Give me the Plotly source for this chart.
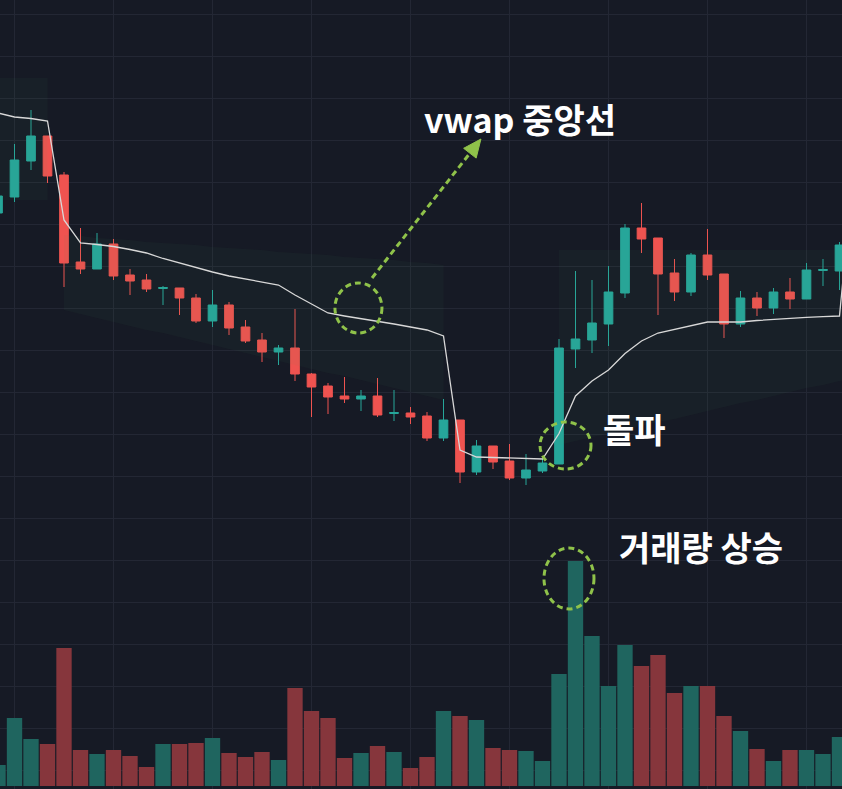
import plotly.graph_objects as go

# ---- data (candle index, OHLC, volume, vwap) ----
idx = list(range(-1, 51))
opens = [587, 603, 639, 664, 625, 538, 531, 556, 525, 520, 511.5, 512, 502, 479, 495, 473, 460, 448, 452, 426,
         414, 404, 401, 404, 386.5, 387, 384, 362, 380, 328, 354, 339, 322, 329, 336, 451, 460, 476, 507, 572,
         562, 527, 508, 545, 526, 476, 502, 492, 508, 501, 529.5, 529]
highs = [610, 656, 690, 664, 628, 572, 567, 561, 531, 526, 514, 512, 506, 510, 498, 480, 467, 455, 491, 427,
         417, 423, 410, 422, 410, 393, 388, 401, 380, 360, 354, 356, 346, 343, 461, 529, 520, 534, 576, 597,
         562, 541, 547, 571, 526, 509, 508, 512, 522, 537, 541, 558]
lows = [582, 598, 630, 617, 513, 526, 531, 520, 505, 508, 495, 485, 477, 473, 465, 457, 438, 435, 419, 383,
        386, 397, 389, 383, 379, 376, 359, 359, 317, 325, 331, 320, 315, 327, 336, 432, 447, 454, 502, 547,
        485, 499, 504, 520, 462, 473, 484, 486, 491, 501, 514, 510]
closes = [604, 640, 664, 624, 537, 531, 556, 524, 519, 511, 512.5, 502, 479, 495, 472, 459, 448, 452, 426, 413,
          403, 401, 404, 385, 387.5, 383, 362, 380, 328, 354, 338, 322, 330, 337, 452, 461, 477, 508, 572, 561,
          526, 508, 545, 525, 476, 502, 492, 508, 501, 530, 530.5, 555]
volume = [21, 68, 47, 42, 138, 36, 32, 36, 30, 19, 42, 42, 43, 48, 33, 29, 34, 26, 98, 75,
          68, 28, 33, 40, 34, 18, 29, 75, 70, 66, 38, 36, 35, 25, 112, 225, 150, 100, 141, 120,
          131, 93, 100, 100, 70, 55, 37, 25, 36, 36, 32, 49]

vwap_idx = list(range(-1, 52))
vwap = [687, 683, 681.5, 679, 580, 557, 555.5, 553.5, 550.5, 547, 541.5, 537, 532, 528, 524, 521, 518, 515, 505, 496,
        487, 484, 481.5, 479, 476, 473, 470, 464, 350, 343, 342.5, 342, 341.5, 341, 366.5, 404, 419, 430, 446.5, 459,
        467, 470.5, 474.5, 478, 478, 478, 479.5, 480.7, 482, 482.7, 483.4, 484, 656]

# soft band around the vwap (per session segment)
band_a_idx = [-1, 0, 1, 2]
band_a_up = [722, 722, 722, 722]
band_a_lo = [600, 600, 600, 600]
band_b_idx = list(range(3, 27))
band_b_up = [565, 564, 562, 561, 560, 558, 557, 556, 555, 553, 552, 551, 550, 548, 547, 546, 545, 543, 542, 541,
             540, 538, 537, 535]
band_b_lo = [490, 486, 482, 478, 474, 470, 467, 463, 459, 455, 451, 447, 443, 439, 435, 431, 427, 424, 420, 416,
             412, 408, 404, 400]
band_c_idx = list(range(33, 52))
band_c_up = [550] * 19
band_c_lo = [355, 359, 363, 366, 370, 374, 378, 381, 385, 389, 393, 397, 400, 404, 408, 412, 415, 419, 423]

labels = ["vwap 중앙선", "돌파", "거래량 상승"]

UP = "#26a69a"
DN = "#ef5350"
VUP = "#1f655f"
VDN = "#86363c"
BG = "#161a25"
ANN = "#8fc24a"

fig = go.Figure()

for bx, bu, bl in [(band_a_idx, band_a_up, band_a_lo), (band_b_idx, band_b_up, band_b_lo),
                   (band_c_idx, band_c_up, band_c_lo)]:
    fig.add_trace(go.Scatter(x=bx + bx[::-1], y=bu + bl[::-1], fill="toself", mode="none",
                             fillcolor="rgba(80,160,100,0.05)", hoverinfo="skip", yaxis="y"))

fig.add_trace(go.Bar(x=idx, y=volume, yaxis="y2", width=0.93,
                     marker=dict(color=[VUP if c > o else VDN for o, c in zip(opens, closes)], line=dict(width=0))))

fig.add_trace(go.Scatter(x=vwap_idx, y=vwap, mode="lines", line=dict(color="#d8d8d8", width=1.3), yaxis="y"))

fig.add_trace(go.Candlestick(x=idx, open=opens, high=highs, low=lows, close=closes,
                             increasing=dict(line=dict(color=UP, width=1), fillcolor=UP),
                             decreasing=dict(line=dict(color=DN, width=1), fillcolor=DN),
                             whiskerwidth=0, yaxis="y"))

dash = "6px,4px"
shapes = [
    dict(type="circle", xref="x", yref="y", x0=19.42, x1=22.27, y0=467, y1=517,
         line=dict(color=ANN, width=3, dash=dash)),
    dict(type="circle", xref="x", yref="y", x0=31.85, x1=34.94, y0=331, y1=378,
         line=dict(color=ANN, width=3, dash=dash)),
    dict(type="circle", xref="x", yref="y2", x0=32.09, x1=35.12, y0=177, y1=238,
         line=dict(color=ANN, width=3, dash=dash)),
    dict(type="line", xref="x", yref="y", x0=21.67, y0=522, x1=27.61, y1=647,
         line=dict(color=ANN, width=3, dash=dash)),
    dict(type="path", xref="x", yref="y", path="M 28.27 661 L 27.98 641.9 L 27.22 651.7 Z",
         fillcolor=ANN, line=dict(color=ANN, width=1)),
]

font = dict(family="Noto Sans CJK KR", size=34, color="white", weight="bold")
annotations = [
    dict(x=30.64, y=682, xref="x", yref="y", text=labels[0], showarrow=False, font=font),
    dict(x=37.55, y=372, xref="x", yref="y", text=labels[1], showarrow=False, font=font),
    dict(x=41.61, y=254, xref="x", yref="y", text=labels[2], showarrow=False, font=font),
]

fig.update_layout(
    width=842, height=789, margin=dict(l=0, r=0, t=0, b=0),
    paper_bgcolor=BG, plot_bgcolor=BG, showlegend=False, boxgap=0.25,
    xaxis=dict(range=[-0.879, 50.152], showticklabels=False, showgrid=True, gridcolor="#232734",
               gridwidth=1, tick0=0, dtick=6, zeroline=False, showline=False, rangeslider=dict(visible=False)),
    yaxis=dict(range=[11, 800], showticklabels=False, showgrid=True, gridcolor="#232734",
               gridwidth=1, tick0=786, dtick=42, zeroline=False, showline=False),
    yaxis2=dict(range=[-3, 786], overlaying="y", showticklabels=False, showgrid=False, zeroline=False),
    shapes=shapes, annotations=annotations,
)

fig.write_html("out.html", config={"displayModeBar": False},
               post_script="document.body.style.margin='0';document.body.style.background='%s';" % BG)
